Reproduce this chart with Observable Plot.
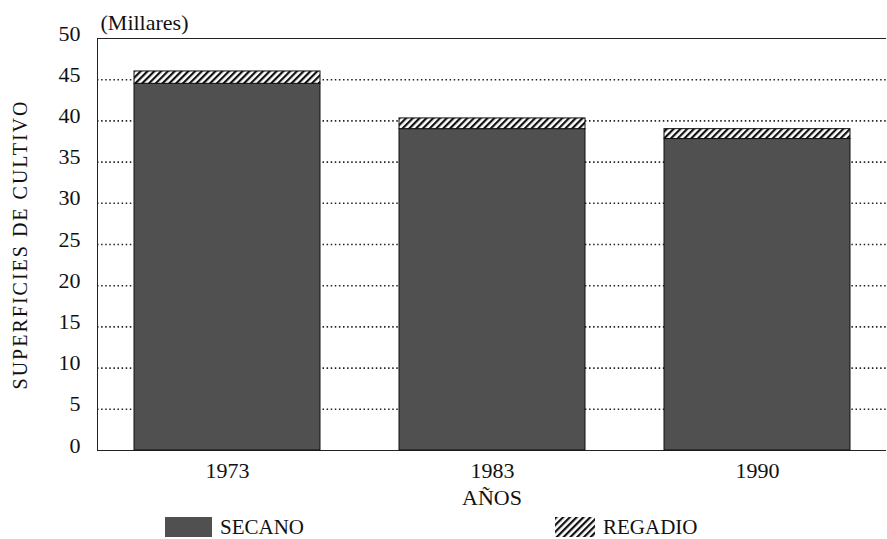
<!DOCTYPE html>
<html><head><meta charset="utf-8">
<script src="https://cdn.jsdelivr.net/npm/d3@7"></script>
<script src="https://cdn.jsdelivr.net/npm/@observablehq/plot@0.6"></script>
<style>
body{margin:0;background:#fff;font-family:"Times New Roman","Liberation Serif","DejaVu Serif",serif;color:#111;}
#wrap{position:relative;width:887px;height:539px;overflow:hidden;}
#legend{position:absolute;left:0;top:516px;width:887px;height:23px;}
.item{position:absolute;top:0;height:22px;display:flex;align-items:center;font-size:21px;}
.sw{flex:none;height:20px;margin-right:8px;}
svg text{font-family:"Times New Roman","Liberation Serif","DejaVu Serif",serif;}
</style></head><body>
<div id="wrap"><div id="chart"></div><div id="legend"></div></div>
<script>
const years = ["1973", "1983", "1990"];
const secano = [44.5, 39.0, 37.8];
const regadio = [1.5, 1.3, 1.2];
const yTicks = [0, 5, 10, 15, 20, 25, 30, 35, 40, 45, 50];
const gridTicks = [5, 10, 15, 20, 25, 30, 35, 40, 45];
const seriesNames = ["SECANO", "REGADIO"];
const seriesColors = ["#505050", "url(#hatch)"];
const serif = '"Times New Roman", "Liberation Serif", "DejaVu Serif", serif';

const table = years.map((year, i) => ({year, secano: secano[i], total: secano[i] + regadio[i]}));

const plot = Plot.plot({
  width: 887, height: 539,
  marginTop: 38, marginBottom: 89, marginLeft: 97, marginRight: 1,
  style: {fontFamily: serif, fontSize: "22px", background: "#fff", color: "#111", overflow: "visible"},
  x: {domain: years, paddingInner: 0.3, paddingOuter: 0.136, label: null},
  y: {domain: [0, 50], label: null},
  marks: [
    Plot.ruleY(gridTicks, {stroke: "#222", strokeWidth: 1.6, strokeDasharray: "1.5,2.6"}),
    Plot.ruleY([0, 50], {stroke: "#222", strokeWidth: 1}),
    Plot.frame({anchor: "left", stroke: "#222"}),
    Plot.barY(table, {x: "year", y1: 0, y2: "secano", fill: seriesColors[0], stroke: "#111", strokeWidth: 1}),
    Plot.barY(table, {x: "year", y1: "secano", y2: "total", fill: seriesColors[1], stroke: "#111", strokeWidth: 1}),
    Plot.axisY(yTicks, {tickSize: 0, tickPadding: 17, dy: -5, label: null}),
    Plot.axisX({tickSize: 0, tickPadding: 12, label: null}),
    Plot.text(["AÑOS"], {frameAnchor: "bottom", lineAnchor: "middle", dy: 47.5, fontSize: 22}),
    Plot.text(["(Millares)"], {frameAnchor: "top-left", textAnchor: "start", lineAnchor: "middle", dy: -16, dx: 3, fontSize: 22}),
    Plot.text(["SUPERFICIES DE CULTIVO"], {frameAnchor: "left", textAnchor: "middle", lineAnchor: "middle", rotate: -90, dx: -76.5, fontSize: 20, style: "letter-spacing:2px"})
  ]
});

// hatch pattern definition
const svgSel = d3.select(plot);
const defs = svgSel.insert("defs", ":first-child");
const pat = defs.append("pattern").attr("id", "hatch").attr("patternUnits", "userSpaceOnUse")
  .attr("width", 4.8).attr("height", 4.8).attr("patternTransform", "rotate(45)");
pat.append("rect").attr("width", 4.8).attr("height", 4.8).attr("fill", "#fff");
pat.append("rect").attr("width", 2.2).attr("height", 4.8).attr("fill", "#111");
svgSel.selectAll("text").filter(function() { return this.textContent === "SUPERFICIES DE CULTIVO"; })
  .style("letter-spacing", "2px");

document.getElementById("chart").appendChild(plot);

const lefts = [165, 555];
const widths = [47, 40];
const legend = document.getElementById("legend");
seriesNames.forEach((name, i) => {
  const it = document.createElement("div");
  it.className = "item";
  it.style.left = lefts[i] + "px";
  const sw = i === 0
    ? `<div class="sw" style="width:${widths[0]}px;background:${seriesColors[0]}"></div>`
    : `<svg class="sw" width="${widths[1]}" height="20"><defs><pattern id="hatchL" patternUnits="userSpaceOnUse" width="4.8" height="4.8" patternTransform="rotate(45)"><rect width="4.8" height="4.8" fill="#fff"/><rect width="2.2" height="4.8" fill="#111"/></pattern></defs><rect width="${widths[1]}" height="20" fill="url(#hatchL)"/></svg>`;
  it.innerHTML = sw + `<span>${name}</span>`;
  legend.appendChild(it);
});
</script>
</body></html>
